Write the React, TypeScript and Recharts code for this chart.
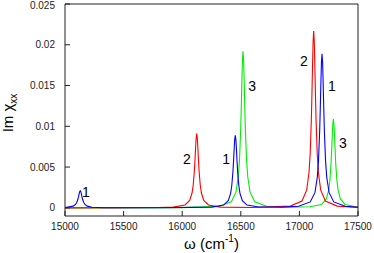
import { LineChart, Line, XAxis, YAxis, ReferenceDot } from 'recharts';

// curve 2 (red)
const redX = [15000, 15500, 15800, 15924, 16024, 16064, 16084, 16094, 16104, 16109, 16114, 16119, 16124, 16129, 16134, 16139, 16144, 16154, 16164, 16184, 16224, 16324, 16600, 16922, 17022, 17062, 17082, 17092, 17102, 17107, 17112, 17117, 17122, 17127, 17132, 17137, 17142, 17152, 17162, 17182, 17222, 17322, 17500];
const redY = [0, 0.00001, 0.000035, 0.00009, 0.00035, 0.00091, 0.00182, 0.0028, 0.00455, 0.00582, 0.00728, 0.00856, 0.0091, 0.00856, 0.00728, 0.00582, 0.00455, 0.0028, 0.00182, 0.00091, 0.00035, 0.00009, 0.00005, 0.000215, 0.000835, 0.00217, 0.00434, 0.00668, 0.01085, 0.01389, 0.01736, 0.02042, 0.0217, 0.02042, 0.01736, 0.01389, 0.01085, 0.00668, 0.00434, 0.00217, 0.000835, 0.000215, 0.00006];

// curve 1 (blue)
const blueX = [15000, 15070, 15090, 15100, 15110, 15115, 15120, 15125, 15130, 15135, 15140, 15145, 15150, 15160, 15170, 15190, 15230, 15330, 15800, 16253, 16353, 16393, 16413, 16423, 16433, 16438, 16443, 16448, 16453, 16458, 16463, 16468, 16473, 16483, 16493, 16513, 16553, 16653, 16850, 16993, 17093, 17133, 17153, 17163, 17173, 17178, 17183, 17188, 17193, 17198, 17203, 17208, 17213, 17223, 17233, 17253, 17293, 17393, 17500];
const blueY = [0.00005, 0.00021, 0.00042, 0.00065, 0.00105, 0.00134, 0.00168, 0.00198, 0.0021, 0.00198, 0.00168, 0.00134, 0.00105, 0.00065, 0.00042, 0.00021, 0.00008, 0.00002, 0.00001, 0.000088, 0.00034, 0.00089, 0.00178, 0.00274, 0.00445, 0.0057, 0.00712, 0.00838, 0.0089, 0.00838, 0.00712, 0.0057, 0.00445, 0.00274, 0.00178, 0.00089, 0.00034, 0.00011, 0.000087, 0.0002, 0.00073, 0.00189, 0.00378, 0.00582, 0.00945, 0.0121, 0.01512, 0.01779, 0.0189, 0.01779, 0.01512, 0.0121, 0.00945, 0.00582, 0.00378, 0.00189, 0.00073, 0.000187, 0.00008];

// curve 3 (green)
const greenX = [15000, 16000, 16319, 16419, 16459, 16479, 16489, 16499, 16504, 16509, 16514, 16519, 16524, 16529, 16534, 16539, 16549, 16559, 16579, 16619, 16719, 16900, 17090, 17190, 17230, 17250, 17260, 17270, 17275, 17280, 17285, 17290, 17295, 17300, 17305, 17310, 17320, 17330, 17350, 17390, 17490, 17500];
const greenY = [0, 0.00003, 0.00019, 0.00074, 0.00192, 0.00384, 0.00591, 0.0096, 0.01229, 0.01536, 0.01807, 0.0192, 0.01807, 0.01536, 0.01229, 0.0096, 0.00591, 0.00384, 0.00192, 0.00074, 0.00019, 0.00008, 0.00013, 0.00042, 0.00109, 0.00218, 0.00335, 0.00545, 0.00698, 0.00872, 0.01026, 0.0109, 0.01026, 0.00872, 0.00698, 0.00545, 0.00335, 0.00218, 0.00109, 0.00042, 0.000108, 0.000098];

const xTicks = [15000, 15500, 16000, 16500, 17000, 17500];
const yTicks = [0, 0.005, 0.01, 0.015, 0.02, 0.025];
const yTickLabels = ['0', '0.005', '0.01', '0.015', '0.02', '0.025'];

// peak annotations
const noteText = ['1', '2', '1', '3', '2', '1', '3'];
const noteX = [15179, 16041, 16374, 16596, 17039, 17278, 17372];
const noteY = [0.00194, 0.006, 0.006, 0.01494, 0.018, 0.01494, 0.00795];

const zip = (xs: number[], ys: number[]) => xs.map((x, i) => ({ x, y: ys[i] }));

const font = '"Liberation Sans", Arial, sans-serif';
const ink = '#222';

const yTitle = (props: any) => {
  const vb = props.viewBox;
  const cx = vb.x + 13;
  const cy = vb.y + vb.height / 2 + 3;
  return (
    <text x={cx} y={cy} transform={`rotate(-90 ${cx} ${cy})`} textAnchor="middle" fontSize={15} fontFamily={font} fill="#000">
      Im χ<tspan fontSize={10} dy={4}>xx</tspan>
    </text>
  );
};

const xTitle = (props: any) => {
  const vb = props.viewBox;
  return (
    <text x={vb.x + vb.width / 2} y={249} textAnchor="middle" fontSize={15} fontFamily={font} fill="#000">
      ω (cm<tspan fontSize={10} dy={-7}>-1</tspan><tspan dy={7}>)</tspan>
    </text>
  );
};

export default function App() {
  return (
    <div style={{ position: 'absolute', left: 0, top: 0 }}>
      <LineChart width={374} height={253} margin={{ top: 3, right: 15, bottom: 0, left: 0 }}>
        <XAxis
          dataKey="x"
          type="number"
          domain={[15000, 17500]}
          ticks={xTicks}
          allowDataOverflow
          height={37}
          tickSize={-5}
          tickMargin={12}
          stroke={ink}
          tick={{ fontSize: 10, fontFamily: font, fill: ink }}
          label={{ content: xTitle }}
        />
        <XAxis
          xAxisId="top"
          orientation="top"
          type="number"
          domain={[15000, 17500]}
          ticks={xTicks}
          height={1}
          tickSize={-5}
          tickFormatter={() => ''}
          stroke={ink}
        />
        <YAxis
          type="number"
          domain={[-0.001, 0.025]}
          ticks={yTicks}
          allowDataOverflow
          width={65}
          tickSize={-5}
          tickMargin={15}
          stroke={ink}
          tickFormatter={(v: number) => yTickLabels[yTicks.indexOf(v)] ?? String(v)}
          tick={{ fontSize: 10, fontFamily: font, fill: ink }}
          label={{ content: yTitle }}
        />
        <YAxis
          yAxisId="right"
          orientation="right"
          type="number"
          domain={[-0.001, 0.025]}
          ticks={yTicks}
          width={1}
          tickSize={-5}
          tickFormatter={() => ''}
          stroke={ink}
        />
        <Line data={zip(greenX, greenY)} dataKey="y" stroke="#00ee00" strokeWidth={1.1} dot={false} isAnimationActive={false} />
        <Line data={zip(redX, redY)} dataKey="y" stroke="#ff0000" strokeWidth={1.1} dot={false} isAnimationActive={false} />
        <Line data={zip(blueX, blueY)} dataKey="y" stroke="#0000ff" strokeWidth={1.1} dot={false} isAnimationActive={false} />
        {noteText.map((t, i) => (
          <ReferenceDot
            key={i}
            x={noteX[i]}
            y={noteY[i]}
            r={1}
            fill="none"
            stroke="none"
            label={{ value: t, position: 'center', fontSize: 14, fontFamily: font, fill: '#000' }}
          />
        ))}
      </LineChart>
    </div>
  );
}
